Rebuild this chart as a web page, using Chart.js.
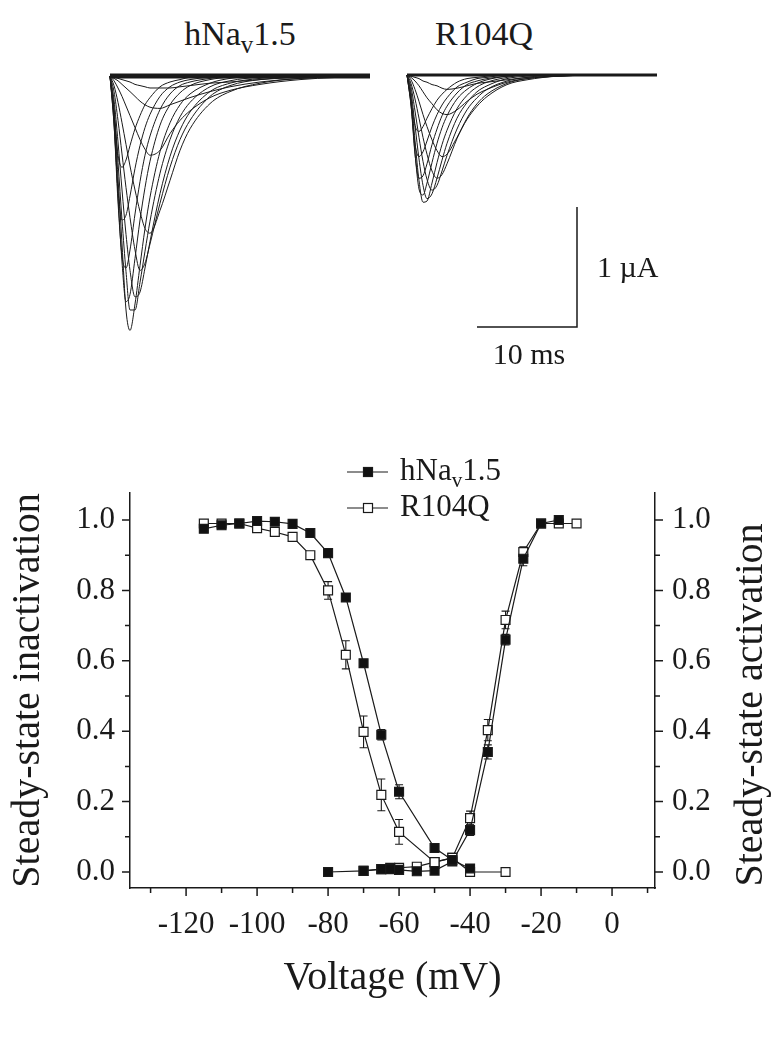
<!DOCTYPE html>
<html>
<head>
<meta charset="utf-8">
<script src="https://cdn.jsdelivr.net/npm/chart.js@4.4.1/dist/chart.umd.min.js"></script>
<style>
  body { margin: 0; background: #fff; width: 777px; height: 1039px; position: relative; overflow: hidden;
         font-family: "Liberation Serif", serif; color: #1a1a1a; }
  canvas { position: absolute; }
  .title { position: absolute; font-size: 34px; line-height: 1; white-space: nowrap; transform: translateX(-50%); }
  .title sub { font-size: 25px; vertical-align: -8px; line-height: 0; }
</style>
</head>
<body>
<div class="title" style="left:240px; top:17px;">hNa<sub>v</sub>1.5</div>
<div class="title" style="left:484px; top:17px;">R104Q</div>
<canvas id="trace-hnav" width="275" height="330" style="left:105px; top:60px;"></canvas>
<canvas id="trace-r104q" width="265" height="330" style="left:400px; top:60px;"></canvas>
<canvas id="ss-chart" width="777" height="599" style="left:0; top:440px;"></canvas>
<script>
// current traces (ms, uA)
let hnavTimes = [0, 0.4, 0.8, 1.2, 1.6, 2, 2.5, 3, 3.5, 4, 5, 6, 7, 8, 10, 12, 15, 19, 26];
let r104qTimes = [0, 0.4, 0.8, 1.2, 1.6, 2, 2.5, 3, 3.5, 4, 5, 6, 7, 8, 10, 12, 15, 19, 25];

let hnavTraces = [
  [0, -.01, -.02, -.03, -.04, -.05, -.07, -.08, -.09, -.10, -.10, -.10, -.09, -.08, -.06, -.05, -.03, -.01, 0],
  [0, -.02, -.04, -.07, -.10, -.13, -.17, -.21, -.24, -.26, -.27, -.24, -.21, -.18, -.13, -.09, -.05, -.02, 0],
  [0, -.04, -.10, -.17, -.25, -.33, -.43, -.53, -.61, -.66, -.62, -.48, -.37, -.29, -.18, -.12, -.07, -.03, 0],
  [0, -.08, -.22, -.39, -.57, -.75, -.95, -1.13, -1.27, -1.31, -1.12, -.87, -.62, -.44, -.23, -.13, -.06, -.02, 0],
  [0, -.13, -.37, -.65, -.93, -1.18, -1.45, -1.62, -1.56, -1.40, -1.06, -.76, -.53, -.37, -.17, -.08, -.03, -.01, 0],
  [0, -.20, -.55, -.95, -1.32, -1.62, -1.84, -1.80, -1.60, -1.38, -.98, -.67, -.45, -.30, -.13, -.06, -.02, 0, 0],
  [0, -.26, -.72, -1.20, -1.63, -1.95, -1.95, -1.72, -1.46, -1.21, -.81, -.53, -.34, -.22, -.09, -.04, -.01, 0, 0],
  [0, -.30, -.85, -1.40, -1.95, -2.12, -1.90, -1.58, -1.27, -1.01, -.63, -.39, -.24, -.15, -.06, -.02, 0, 0, 0],
  [0, -.36, -1.00, -1.55, -1.88, -1.82, -1.52, -1.20, -.93, -.71, -.41, -.24, -.14, -.08, -.03, -.01, 0, 0, 0],
  [0, -.40, -1.05, -1.50, -1.60, -1.45, -1.15, -.88, -.66, -.50, -.28, -.15, -.08, -.05, -.02, 0, 0, 0, 0],
  [0, -.40, -.95, -1.20, -1.16, -1.00, -.77, -.58, -.43, -.32, -.17, -.09, -.05, -.03, -.01, 0, 0, 0, 0],
  [0, -.32, -.66, -.76, -.70, -.58, -.44, -.33, -.24, -.18, -.09, -.05, -.03, -.01, 0, 0, 0, 0, 0]
];

let r104qTraces = [
  [0, -.01, -.02, -.03, -.05, -.06, -.08, -.09, -.11, -.12, -.11, -.09, -.07, -.06, -.04, -.02, -.01, 0, 0],
  [0, -.02, -.05, -.09, -.14, -.19, -.24, -.29, -.32, -.33, -.29, -.22, -.16, -.12, -.06, -.03, -.01, 0, 0],
  [0, -.04, -.12, -.22, -.33, -.43, -.54, -.63, -.68, -.66, -.52, -.37, -.26, -.18, -.08, -.04, -.01, 0, 0],
  [0, -.07, -.20, -.36, -.52, -.66, -.80, -.86, -.83, -.74, -.53, -.36, -.24, -.16, -.07, -.03, -.01, 0, 0],
  [0, -.10, -.30, -.52, -.72, -.87, -.96, -.92, -.80, -.67, -.45, -.29, -.19, -.12, -.05, -.02, 0, 0, 0],
  [0, -.14, -.42, -.70, -.92, -1.03, -.99, -.86, -.71, -.57, -.36, -.23, -.14, -.09, -.03, -.01, 0, 0, 0],
  [0, -.18, -.55, -.88, -1.06, -1.05, -.90, -.73, -.58, -.46, -.28, -.17, -.10, -.06, -.02, 0, 0, 0, 0],
  [0, -.22, -.65, -.95, -1.00, -.90, -.73, -.57, -.44, -.34, -.20, -.12, -.07, -.04, -.01, 0, 0, 0, 0],
  [0, -.25, -.66, -.86, -.84, -.74, -.58, -.45, -.34, -.26, -.15, -.08, -.05, -.03, -.01, 0, 0, 0, 0],
  [0, -.25, -.58, -.68, -.64, -.55, -.43, -.33, -.25, -.19, -.10, -.06, -.03, -.02, 0, 0, 0, 0, 0],
  [0, -.22, -.42, -.47, -.43, -.36, -.28, -.21, -.16, -.12, -.06, -.03, -.02, -.01, 0, 0, 0, 0, 0]
];

// scale bar: 10 ms x 1 uA, corner at (17 ms, -2.1 uA) in the R104Q panel
let scaleBarMs = 10;
let scaleBarUA = 1;
let scaleBarCorner = [17, -2.1];

// steady-state curves (mV, normalised)
let inactVoltsWT = [-115, -110, -105, -100, -95, -90, -85, -80, -75, -70, -65, -60, -50, -45, -40];
let inactWT = [0.975, 0.985, 0.99, 0.997, 0.995, 0.989, 0.963, 0.906, 0.78, 0.593, 0.39, 0.228, 0.068, 0.034, 0.01];
let inactErrWT = [0, 0, 0, 0, 0, 0, 0, 0, 0.01, 0.01, 0.015, 0.02, 0, 0, 0];

let inactVoltsMut = [-115, -110, -105, -100, -95, -90, -85, -80, -75, -70, -65, -60, -50, -45, -40, -30];
let inactMut = [0.99, 0.99, 0.99, 0.977, 0.966, 0.952, 0.90, 0.80, 0.617, 0.398, 0.219, 0.114, 0.028, 0.04, 0.0, 0.0];
let inactErrMut = [0, 0, 0, 0, 0, 0, 0.01, 0.025, 0.04, 0.045, 0.045, 0.035, 0, 0, 0, 0];

let actVoltsWT = [-80, -70, -65, -62.5, -60, -55, -50, -45, -40, -35, -30, -25, -20, -15];
let actWT = [0.0, 0.003, 0.008, 0.008, 0.006, 0.002, 0.004, 0.03, 0.119, 0.341, 0.66, 0.89, 0.99, 1.0];
let actErrWT = [0, 0, 0, 0, 0, 0, 0, 0, 0.015, 0.02, 0.015, 0.02, 0, 0];

let actVoltsMut = [-70, -65, -62.5, -60, -55, -50, -45, -40, -35, -30, -25, -20, -15, -10];
let actMut = [0.003, 0.008, 0.012, 0.012, 0.015, 0.028, 0.04, 0.153, 0.403, 0.716, 0.909, 0.99, 0.99, 0.99];
let actErrMut = [0, 0, 0, 0, 0, 0, 0, 0.02, 0.03, 0.025, 0.015, 0, 0, 0];

const INK = '#1a1a1a';
const SERIF = '"Liberation Serif", "Times New Roman", serif';
Chart.defaults.font.family = SERIF;
Chart.defaults.color = INK;

function traceChart(id, times, traces, band, xr, yr, plugins) {
  let datasets = traces.map(vals => ({
    data: vals.map((v, i) => ({ x: times[i], y: v })),
    borderColor: INK, borderWidth: 1, pointRadius: 0,
    cubicInterpolationMode: 'monotone', fill: false
  }));
  // noisy baseline band
  datasets.push({
    data: [{ x: times[0], y: 0 }, { x: times[times.length - 1], y: 0 }],
    borderColor: INK, borderWidth: band, pointRadius: 0, fill: false
  });
  return new Chart(id, {
    type: 'line',
    data: { datasets: datasets },
    options: {
      responsive: false, animation: false,
      layout: { padding: 0 },
      plugins: { legend: { display: false }, tooltip: { enabled: false } },
      scales: {
        x: { type: 'linear', display: false, min: xr[0], max: xr[1] },
        y: { display: false, min: yr[0], max: yr[1] }
      }
    },
    plugins: plugins || []
  });
}

const scaleBarPlugin = {
  id: 'scaleBar',
  afterDraw(chart) {
    const { ctx, scales: { x, y } } = chart;
    const x1 = x.getPixelForValue(scaleBarCorner[0]);
    const x0 = x.getPixelForValue(scaleBarCorner[0] - scaleBarMs);
    const y0 = y.getPixelForValue(scaleBarCorner[1]);
    const y1 = y.getPixelForValue(scaleBarCorner[1] + scaleBarUA);
    ctx.save();
    ctx.strokeStyle = INK;
    ctx.lineWidth = 1.5;
    ctx.beginPath();
    ctx.moveTo(x0, y0); ctx.lineTo(x1, y0); ctx.lineTo(x1, y1);
    ctx.stroke();
    ctx.fillStyle = INK;
    ctx.font = '30px ' + SERIF;
    ctx.textAlign = 'left'; ctx.textBaseline = 'middle';
    ctx.fillText('1 \u00b5A', x1 + 20, (y0 + y1) / 2 + 2);
    ctx.textAlign = 'center'; ctx.textBaseline = 'top';
    ctx.fillText('10 ms', (x0 + x1) / 2 + 2, y0 + 14);
    ctx.restore();
  }
};

traceChart('trace-hnav', hnavTimes, hnavTraces, 5, [-0.5, 27], [-2.6167, 0.1333]);
traceChart('trace-r104q', r104qTimes, r104qTraces, 3, [-0.7, 25.8], [-2.625, 0.125], [scaleBarPlugin]);

// ---- steady-state chart ----
function pts(xs, ys) { return xs.map((v, i) => ({ x: v, y: ys[i] })); }

function series(label, xs, ys, errs, filled, axis) {
  return {
    label: label, data: pts(xs, ys), errors: errs, yAxisID: axis,
    borderColor: INK, borderWidth: 1.2, tension: 0,
    pointStyle: 'rect', pointRadius: 6.3, pointBorderWidth: 1.2,
    pointBorderColor: INK, pointBackgroundColor: filled ? '#111' : '#fff'
  };
}

function drawMarker(ctx, x, y, filled) {
  const s = 4.5;
  ctx.fillStyle = filled ? '#111' : '#fff';
  ctx.fillRect(x - s, y - s, 2 * s, 2 * s);
  ctx.strokeStyle = INK; ctx.lineWidth = 1.2;
  ctx.strokeRect(x - s, y - s, 2 * s, 2 * s);
}

const ssPlugin = {
  id: 'ssExtras',
  beforeDatasetsDraw(chart) {
    const { ctx } = chart;
    ctx.save();
    ctx.strokeStyle = INK; ctx.lineWidth = 1.1;
    chart.data.datasets.forEach(ds => {
      const yScale = chart.scales[ds.yAxisID];
      ds.data.forEach((p, i) => {
        const e = ds.errors[i];
        if (!e) return;
        const px = chart.scales.x.getPixelForValue(p.x);
        const top = yScale.getPixelForValue(p.y + e);
        const bot = yScale.getPixelForValue(p.y - e);
        ctx.beginPath();
        ctx.moveTo(px, top); ctx.lineTo(px, bot);
        ctx.moveTo(px - 4, top); ctx.lineTo(px + 4, top);
        ctx.moveTo(px - 4, bot); ctx.lineTo(px + 4, bot);
        ctx.stroke();
      });
    });
    ctx.restore();
  },
  afterDraw(chart) {
    const { ctx, chartArea: a, scales } = chart;
    ctx.save();
    ctx.strokeStyle = INK; ctx.lineWidth = 1.5;
    ctx.beginPath();
    scales.x.ticks.forEach(t => {
      const len = Math.round(t.value) % 20 === 0 ? 8 : 5;
      const px = scales.x.getPixelForValue(t.value);
      ctx.moveTo(px, a.bottom); ctx.lineTo(px, a.bottom + len);
    });
    scales.y.ticks.forEach(t => {
      const len = Math.round(t.value * 10) % 2 === 0 ? 8 : 5;
      const py = scales.y.getPixelForValue(t.value);
      ctx.moveTo(a.left - len, py); ctx.lineTo(a.left, py);
    });
    scales.y2.ticks.forEach(t => {
      const len = Math.round(t.value * 10) % 2 === 0 ? 8 : 5;
      const py = scales.y2.getPixelForValue(t.value);
      ctx.moveTo(a.right, py); ctx.lineTo(a.right + len, py);
    });
    ctx.stroke();

    // right axis title, reading bottom to top as in the figure
    ctx.save();
    ctx.translate(751, 265);
    ctx.rotate(-Math.PI / 2);
    ctx.fillStyle = INK;
    ctx.font = '40px ' + SERIF;
    ctx.textAlign = 'center'; ctx.textBaseline = 'middle';
    ctx.fillText('Steady-state activation', 0, 0);
    ctx.restore();

    // legend
    const rows = [[32, true, 'hNa', 'v', '1.5'], [68, false, 'R104Q', '', '']];
    rows.forEach(r => {
      const y = r[0];
      ctx.strokeStyle = INK; ctx.lineWidth = 1.2;
      ctx.beginPath(); ctx.moveTo(347, y); ctx.lineTo(388, y); ctx.stroke();
      drawMarker(ctx, 368, y, r[1]);
      ctx.fillStyle = INK;
      ctx.textAlign = 'left'; ctx.textBaseline = 'middle';
      ctx.font = '31px ' + SERIF;
      let x = 400;
      ctx.fillText(r[2], x, y);
      x += ctx.measureText(r[2]).width;
      if (r[3]) {
        ctx.font = '21px ' + SERIF;
        ctx.fillText(r[3], x, y + 9);
        x += ctx.measureText(r[3]).width;
        ctx.font = '31px ' + SERIF;
        ctx.fillText(r[4], x, y);
      }
    });
    ctx.restore();
  }
};

const tickFont = { family: SERIF, size: 31 };
const titleFont = { family: SERIF, size: 40 };
const hiddenTicks = { display: true, drawOnChartArea: false, drawTicks: true, tickLength: 8, tickColor: 'rgba(0,0,0,0)' };
const axisBorder = { display: true, color: INK, width: 1.5 };
const yLabel = v => (Math.round(v * 10) % 2 === 0 ? v.toFixed(1) : '');

new Chart('ss-chart', {
  type: 'line',
  data: {
    datasets: [
      series('hNav1.5 inactivation', inactVoltsWT, inactWT, inactErrWT, true, 'y'),
      series('R104Q inactivation', inactVoltsMut, inactMut, inactErrMut, false, 'y'),
      series('hNav1.5 activation', actVoltsWT, actWT, actErrWT, true, 'y2'),
      series('R104Q activation', actVoltsMut, actMut, actErrMut, false, 'y2')
    ]
  },
  options: {
    responsive: false, animation: false,
    layout: { padding: { top: 53, bottom: 34, left: 0, right: 0 } },
    plugins: { legend: { display: false }, tooltip: { enabled: false } },
    scales: {
      x: {
        type: 'linear', min: -135.8, max: 12.1,
        afterFit(s) { s.height = 117; },
        grid: hiddenTicks, border: axisBorder,
        ticks: {
          stepSize: 10, includeBounds: false, autoSkip: false, maxRotation: 0, padding: 10,
          font: tickFont, color: INK,
          callback: v => (Math.round(v) % 20 === 0 ? String(Math.round(v)) : '')
        },
        title: { display: true, text: 'Voltage (mV)', font: titleFont, color: INK, padding: { top: 0, bottom: 3 } }
      },
      y: {
        position: 'left', min: -0.0455, max: 1.0767,
        afterFit(s) { s.width = 130; },
        grid: hiddenTicks, border: axisBorder,
        ticks: { stepSize: 0.1, includeBounds: false, autoSkip: false, padding: 7, font: tickFont, color: INK, callback: yLabel },
        title: { display: true, text: 'Steady-state inactivation', font: titleFont, color: INK, padding: { top: 4, bottom: 0 } }
      },
      y2: {
        position: 'right', min: -0.0455, max: 1.0767,
        afterFit(s) { s.width = 122; },
        grid: hiddenTicks, border: axisBorder,
        ticks: { stepSize: 0.1, includeBounds: false, autoSkip: false, padding: 9, font: tickFont, color: INK, callback: yLabel },
        title: { display: false }
      }
    }
  },
  plugins: [ssPlugin]
});
</script>
</body>
</html>
